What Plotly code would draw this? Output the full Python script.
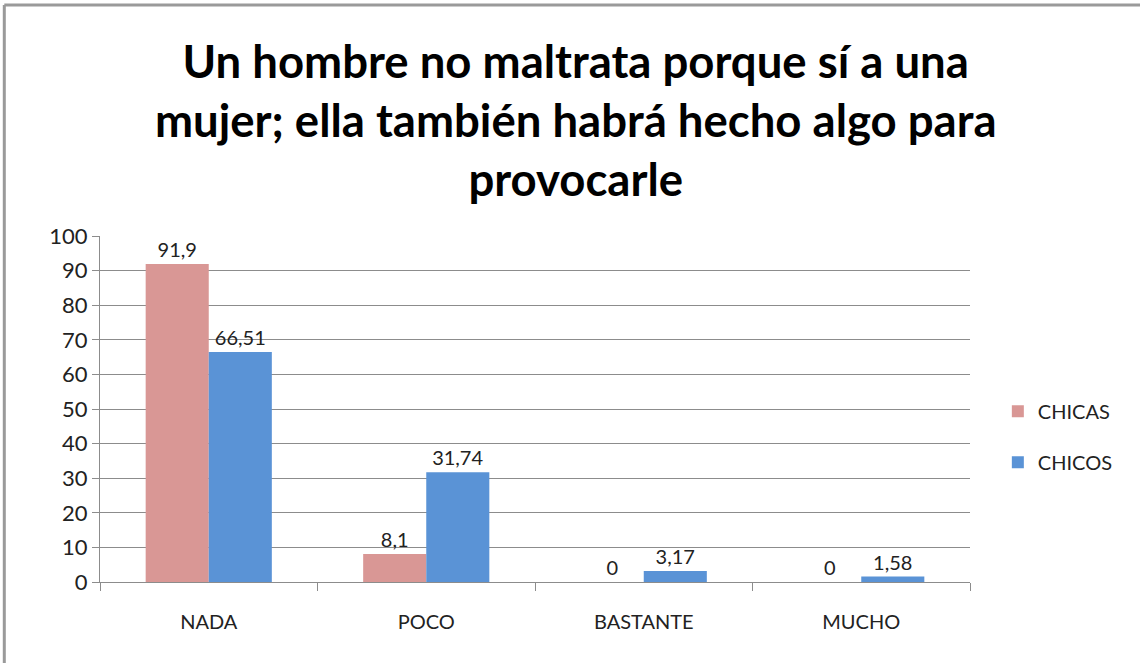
import plotly.graph_objects as go

categories = ["NADA", "POCO", "BASTANTE", "MUCHO"]
chicas = [91.9, 8.1, 0, 0]
chicos = [66.51, 31.74, 3.17, 1.58]
y_ticks = [0, 10, 20, 30, 40, 50, 60, 70, 80, 90, 100]

TITLE = ("Un hombre no maltrata porque sí a una<br>"
         "mujer; ella también habrá hecho algo para<br>provocarle")
FONT = "Lato, 'Open Sans', sans-serif"


def _label(v):
    # Excel-style decimal comma
    return f"{v:g}".replace(".", ",")


fig = go.Figure()
fig.add_bar(
    x=categories, y=chicas, name="CHICAS", legendgroup="a",
    marker_color="#d99795", marker_line_width=0,
    text=[_label(v) for v in chicas], textposition="outside",
    textfont=dict(size=20, color="#222"), cliponaxis=False,
)
fig.add_bar(
    x=categories, y=chicos, name="CHICOS", legendgroup="b",
    marker_color="#5a93d6", marker_line_width=0,
    text=[_label(v) for v in chicos], textposition="outside",
    textfont=dict(size=20, color="#222"), cliponaxis=False,
)

fig.update_layout(
    width=1140, height=663,
    margin=dict(l=100, r=170, t=236, b=81),
    paper_bgcolor="white", plot_bgcolor="white",
    font=dict(family=FONT, size=20, color="#222"),
    title=dict(
        text=TITLE, x=0.505, xanchor="center",
        yref="container", y=1 - 78 / 663, yanchor="middle",
        font=dict(family=FONT, size=45.5, color="#000", weight="bold"),
    ),
    barmode="group", bargap=0.42, bargroupgap=0,
    legend=dict(
        x=1.032, y=0.42, xanchor="left", yanchor="middle",
        font=dict(size=20), tracegroupgap=22, itemwidth=30,
    ),
    showlegend=True,
)
fig.update_yaxes(
    range=[0, 100], tickvals=y_ticks, showgrid=True, gridcolor="#8c8c8c",
    gridwidth=1, showline=True, linecolor="#8c8c8c", ticks="outside",
    ticklen=7, tickcolor="#8c8c8c", tickfont=dict(size=22), zeroline=False,
)
fig.update_xaxes(
    showline=True, linecolor="#8c8c8c", linewidth=1, ticks="outside",
    tickson="boundaries", ticklen=8, tickcolor="#8c8c8c",
    tickfont=dict(size=20), ticklabelstandoff=22,
)

# outer chart border (top and left only, as in the screenshot)
fig.add_shape(type="line", xref="paper", yref="paper",
              x0=-0.11, x1=1.2, y0=1.6676, y1=1.6676,
              line=dict(color="#9a9a9a", width=3))
fig.add_shape(type="line", xref="paper", yref="paper",
              x0=-0.11, x1=-0.11, y0=-0.3, y1=1.6676,
              line=dict(color="#9a9a9a", width=3))

# drop the default 8px page margin so the figure sits at the window corner
fig.write_html("out.html", config={"displayModeBar": False},
               post_script="document.body.style.margin='0';")
